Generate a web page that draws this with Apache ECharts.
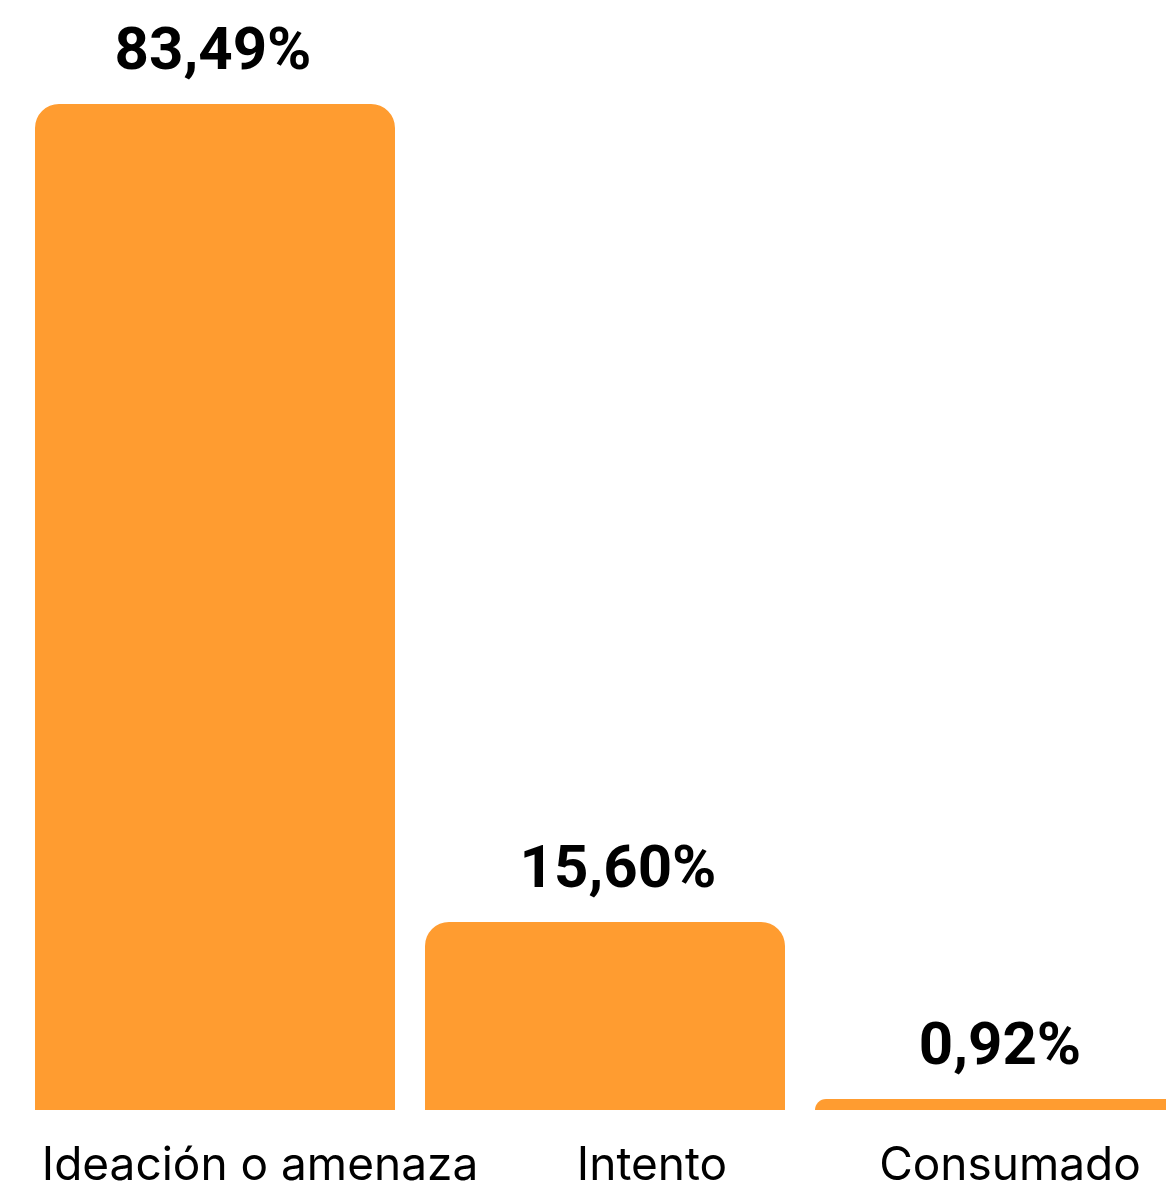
<!DOCTYPE html>
<html>
<head>
<meta charset="utf-8">
<script src="https://cdn.jsdelivr.net/npm/echarts@6/dist/echarts.min.js"></script>
<style>
html,body{margin:0;padding:0;background:#fff;}
#chart{width:1166px;height:1190px;}
</style>
</head>
<body>
<div id="chart"></div>
<script>
const categories = ["Ideación o amenaza", "Intento", "Consumado"];
const values = [83.49, 15.60, 0.92];
const valueLabels = ["83,49%", "15,60%", "0,92%"];

// horizontal nudges of the texts, as seen in the reference
const catLabelShift = [45, 47, 15];
const valLabelShift = [-2, 13, 5];

const chart = echarts.init(document.getElementById('chart'));
chart.setOption({
  backgroundColor: '#ffffff',
  animation: false,
  grid: { left: 20, top: 0, right: -24, height: 1110, containLabel: false, outerBoundsMode: 'none' },
  xAxis: {
    type: 'category',
    data: categories.map((c, i) => ({
      value: c,
      textStyle: { padding: catLabelShift[i] >= 0 ? [0, 0, 0, catLabelShift[i] * 2] : [0, -catLabelShift[i] * 2, 0, 0] }
    })),
    axisLine: { show: false },
    axisTick: { show: false },
    axisLabel: {
      interval: 0,
      margin: 33,
      fontFamily: 'Inter',
      fontSize: 46,
      color: '#000',
      fontWeight: 400
    }
  },
  yAxis: {
    type: 'value',
    min: 0,
    max: 92.12,
    show: false,
    splitLine: { show: false }
  },
  series: [{
    type: 'bar',
    barWidth: 360,
    data: values.map((v, i) => ({
      value: v,
      label: { offset: [valLabelShift[i], 0] }
    })),
    itemStyle: { color: '#FF9C30', borderRadius: [24, 24, 0, 0] },
    label: {
      show: true,
      position: 'top',
      distance: 20,
      formatter: p => valueLabels[p.dataIndex],
      fontFamily: 'Roboto',
      fontWeight: 700,
      fontSize: 60,
      color: '#000'
    }
  }]
});
</script>
</body>
</html>
